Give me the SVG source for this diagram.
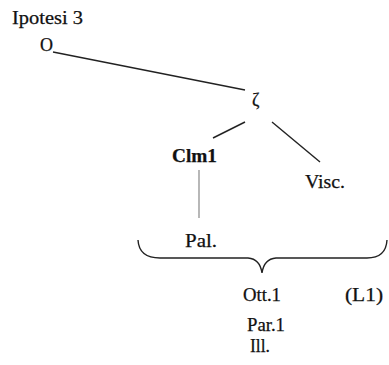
<svg xmlns="http://www.w3.org/2000/svg" width="389" height="365" viewBox="0 0 389 365">
<style>
text{font-family:"Liberation Serif","DejaVu Serif",serif;font-size:18px;fill:#111;stroke:#111;stroke-width:0.25}
.b{font-weight:bold}
.e{stroke:#222;stroke-width:1.4;fill:none}
.g{stroke:#888;stroke-width:1.2;fill:none}
</style>
<rect width="389" height="365" fill="#fff"/>
<g id="title"><text x="12" y="24" textLength="71" lengthAdjust="spacingAndGlyphs">Ipotesi 3</text></g>
<g id="nO"><text x="40" y="51" textLength="13" lengthAdjust="spacingAndGlyphs">O</text></g>
<g id="nZeta"><text x="252" y="106">ζ</text></g>
<g id="nClm1"><text class="b" x="172" y="162" textLength="45" lengthAdjust="spacingAndGlyphs">Clm1</text></g>
<g id="nVisc"><text x="305" y="188" textLength="40" lengthAdjust="spacingAndGlyphs">Visc.</text></g>
<g id="nPal"><text x="185" y="247" textLength="32" lengthAdjust="spacingAndGlyphs">Pal.</text></g>
<g id="nOtt"><text x="243" y="301" textLength="38" lengthAdjust="spacingAndGlyphs">Ott.1</text></g>
<g id="nL1"><text x="345" y="301" textLength="38" lengthAdjust="spacingAndGlyphs">(L1)</text></g>
<g id="nPar"><text x="247" y="331" textLength="38" lengthAdjust="spacingAndGlyphs">Par.1</text></g>
<g id="nIll"><text x="250" y="352" textLength="20" lengthAdjust="spacingAndGlyphs">Ill.</text></g>
<g id="connectors">
<path class="e" d="M53,52 L245,90"/>
<path class="e" d="M245,122 L213,138"/>
<path class="e" d="M272,122 L320,162"/>
<path class="g" d="M199,170 L199,218"/>
<path class="e" d="M138,240 Q139,258 160,258 L248,258 Q260,259 262,273 Q264,259 276,258 L367,258 Q386,258 387,240"/>
</g>
</svg>
